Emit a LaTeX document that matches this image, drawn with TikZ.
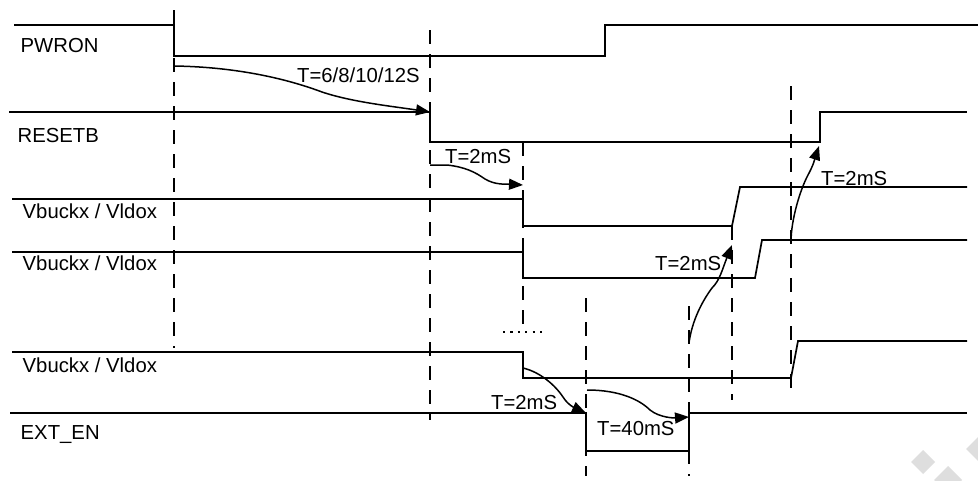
\documentclass[tikz,border=0pt]{standalone}
\usepackage{fontspec}
\setmainfont{Liberation Sans}
\usetikzlibrary{arrows.meta}
\begin{document}
\begin{tikzpicture}[x=1pt,y=-1pt,
  wave/.style={line width=1.7pt,line join=miter},
  guide/.style={line width=1.6pt,dash pattern=on 14pt off 10pt},
  dotrow/.style={line width=2.2pt,dash pattern=on 2.2pt off 5.2pt},
  delay/.style={line width=1.5pt,-{Triangle[length=14pt,width=11pt]}},
  sig/.style={anchor=base west,inner sep=0pt,font=\fontsize{20.3}{22}\selectfont},
  tlabel/.style={anchor=base west,inner sep=0pt,font=\fontsize{20.3}{22}\selectfont},
  wmark/.style={fill=black!13,draw=none}]
\useasboundingbox (0,0) rectangle (978,480);
\begin{scope}
\clip (0,0) rectangle (978,480);
\fill[wmark] (923,450) -- (935,462) -- (923,474) -- (911,462) -- cycle;
\fill[wmark] (948,466) -- (962,480) -- (948,494) -- (934,480) -- cycle;
\fill[wmark] (982,433) -- (998,449) -- (982,465) -- (966,449) -- cycle;
\end{scope}
% signal names
\node[sig] (pwron) at (20.5,52.5) {PWRON};
\node[sig] (resetb) at (17.5,142) {RESETB};
\node[sig] (vb1) at (22.5,218.5) {Vbuckx / Vldox};
\node[sig] (vb2) at (22.5,270) {Vbuckx / Vldox};
\node[sig] (vb3) at (22.5,372) {Vbuckx / Vldox};
\node[sig] (exten) at (20.5,439) {EXT\_EN};
% waveforms
\draw[wave] (14,25) -- (174,25) -- (174,56) -- (605,56) -- (605,25) -- (978,25);
\draw[wave] (9,112) -- (430,112) -- (430,142) -- (820,142) -- (820,112) -- (967,112);
\draw[wave] (12,199) -- (523,199) -- (523,226) -- (732,226) -- (740,187) -- (967,187);
\draw[wave] (12,252) -- (523,252) -- (523,278) -- (755,278) -- (762,240) -- (967,240);
\draw[wave] (12,352) -- (523,352) -- (523,378) -- (791,378) -- (798,341) -- (967,341);
\draw[wave] (10,413) -- (586,413) -- (586,451) -- (689,451) -- (689,413) -- (967,413);
% guide lines
\draw[guide] (174,10) -- (174,348);
\draw[guide] (430,30) -- (430,420);
\draw[guide] (523,142) -- (523,326);
\draw[guide] (586,298) -- (586,476);
\draw[guide] (689,306) -- (689,476);
\draw[guide] (732,226) -- (732,400);
\draw[guide] (791,86) -- (791,390);
\draw[dotrow] (503,332) -- (545,332);
% delay arrows
\coordinate (a1s) at (174,66);   \coordinate (a1e) at (430,112);
\coordinate (a2s) at (430,165);  \coordinate (a2e) at (523,185);
\coordinate (a3s) at (523,368);  \coordinate (a3e) at (586,413);
\coordinate (a4s) at (587,390);  \coordinate (a4e) at (689,417);
\coordinate (a5s) at (689,343);  \coordinate (a5e) at (732,245);
\coordinate (a6s) at (791,242);  \coordinate (a6e) at (819,146);
\draw[delay] (a1s) .. controls (240,67) and (290,80) .. (322,92) .. controls (352,102) and (390,106) .. (a1e);
\draw[delay] (a2s) -- (447,165) .. controls (465,167) and (475,172) .. (485,179) .. controls (495,185) and (505,184) .. (a2e);
\draw[delay] (a3s) .. controls (540,372) and (555,385) .. (563,397) .. controls (568,405) and (575,408) .. (a3e);
\draw[delay] (a4s) .. controls (620,390) and (640,400) .. (650,410) .. controls (660,418) and (675,418) .. (a4e);
\draw[delay] (a5s) .. controls (692,320) and (703,300) .. (712,288) .. controls (720,280) and (722,270) .. (a5e);
\draw[delay] (a6s) .. controls (791,220) and (800,190) .. (808,175) .. controls (814,164) and (815,158) .. (a6e);
% delay labels
\node[tlabel] (t1) at (297,82) {T=6/8/10/12S};
\node[tlabel] (t2) at (445,163) {T=2mS};
\node[tlabel] (t3) at (491,409) {T=2mS};
\node[tlabel] (t4) at (597,435) {T=40mS};
\node[tlabel] (t5) at (655,270) {T=2mS};
\node[tlabel] (t6) at (821,185) {T=2mS};
\end{tikzpicture}
\end{document}
